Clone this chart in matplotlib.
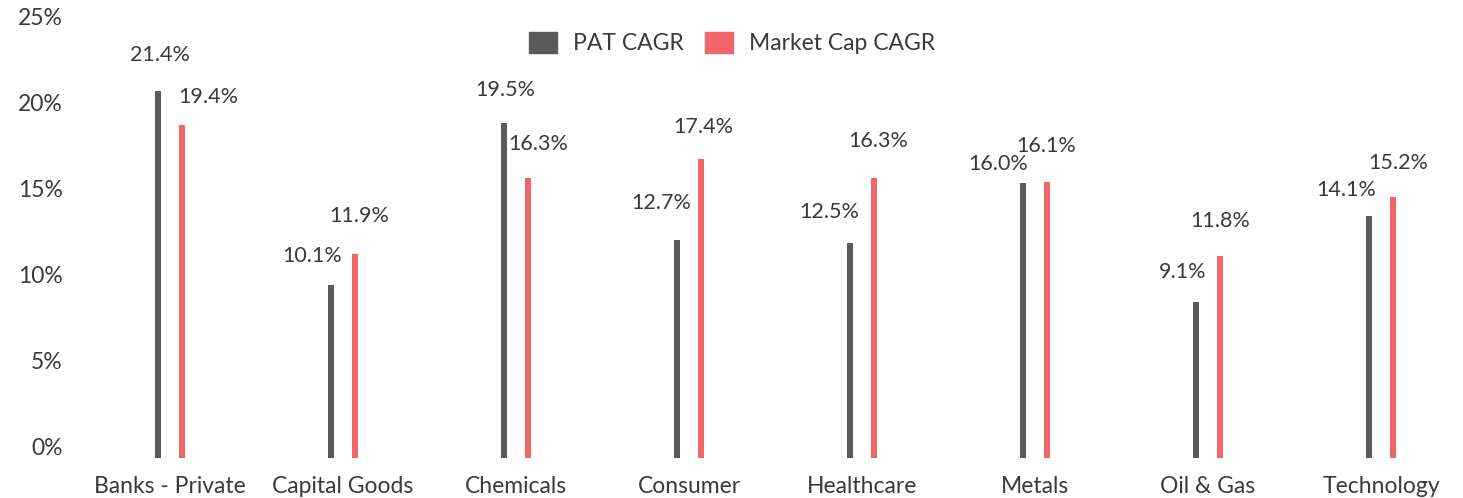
import matplotlib
matplotlib.use('Agg')
import matplotlib.pyplot as plt
import matplotlib.transforms as mtransforms
from matplotlib.patches import Patch
import numpy as np

plt.rcParams['font.family'] = ['Lato', 'DejaVu Sans']

# Data
sectors = ['Banks - Private', 'Capital Goods', 'Chemicals', 'Consumer',
           'Healthcare', 'Metals', 'Oil & Gas', 'Technology']
pat_cagr = [21.4, 10.1, 19.5, 12.7, 12.5, 16.0, 9.1, 14.1]
mcap_cagr = [19.4, 11.9, 16.3, 17.4, 16.3, 16.1, 11.8, 15.2]
y_ticks = [0, 5, 10, 15, 20, 25]

# label offsets (pixels) from the top of each bar
pat_offsets = [(2, 36), (-19, 29), (1, 33), (-16, 37), (-21, 31), (-25, 19), (-13, 30), (-23, 26)]
mcap_offsets = [(26, 28), (4, 38), (10, 34), (2, 32), (4, 37), (-1, 36), (0, 35), (5, 34)]

DARK = '#5a5a5a'
RED = '#f0666a'
TEXT = '#3a3a3a'
FS_VAL = 15.5
FS_AX = 16.5

fig = plt.figure(figsize=(14.63, 4.98), dpi=100)
ax = fig.add_axes([83.5 / 1463, 40 / 498, 1384 / 1463, 429 / 498])

x = np.arange(len(sectors))
off = 0.07
w = 0.036
ax.bar(x - off, pat_cagr, width=w, color=DARK, label='PAT CAGR')
ax.bar(x + off, mcap_cagr, width=w, color=RED, label='Market Cap CAGR')

for i in range(len(sectors)):
    ax.annotate(f'{pat_cagr[i]:.1f}%', xy=(x[i] - off, pat_cagr[i]),
                xytext=pat_offsets[i], textcoords='offset pixels',
                ha='center', va='center', fontsize=FS_VAL, color=TEXT)
    ax.annotate(f'{mcap_cagr[i]:.1f}%', xy=(x[i] + off, mcap_cagr[i]),
                xytext=mcap_offsets[i], textcoords='offset pixels',
                ha='center', va='center', fontsize=FS_VAL, color=TEXT)

ax.set_xlim(-0.5, 7.5)
ax.set_ylim(0, 25)
ax.set_xticks(x)
ax.set_xticklabels(sectors, fontsize=FS_AX, color=TEXT)
ax.set_yticks(y_ticks)
ax.set_yticklabels([f'{v}%' for v in y_ticks], fontsize=FS_AX, color=TEXT)
ax.tick_params(axis='both', length=0)
ax.tick_params(axis='y', pad=15)
ax.tick_params(axis='x', pad=13)

# shift y labels upward like the reference
shift = mtransforms.ScaledTranslation(0, 12 / 100, fig.dpi_scale_trans)
for lbl in ax.get_yticklabels():
    lbl.set_transform(lbl.get_transform() + shift)

for s in ax.spines.values():
    s.set_visible(False)

handles = [Patch(color=DARK, label='PAT CAGR'), Patch(color=RED, label='Market Cap CAGR')]
leg = ax.legend(handles=handles, loc='center', bbox_to_anchor=(732 / 1463, 1 - 43 / 498),
                bbox_transform=fig.transFigure, ncol=2, frameon=False, fontsize=FS_AX,
                handlelength=1.25, handleheight=1.05, handletextpad=0.7, columnspacing=0.9)
for t in leg.get_texts():
    t.set_color(TEXT)

fig.savefig('out.png', dpi=100)
